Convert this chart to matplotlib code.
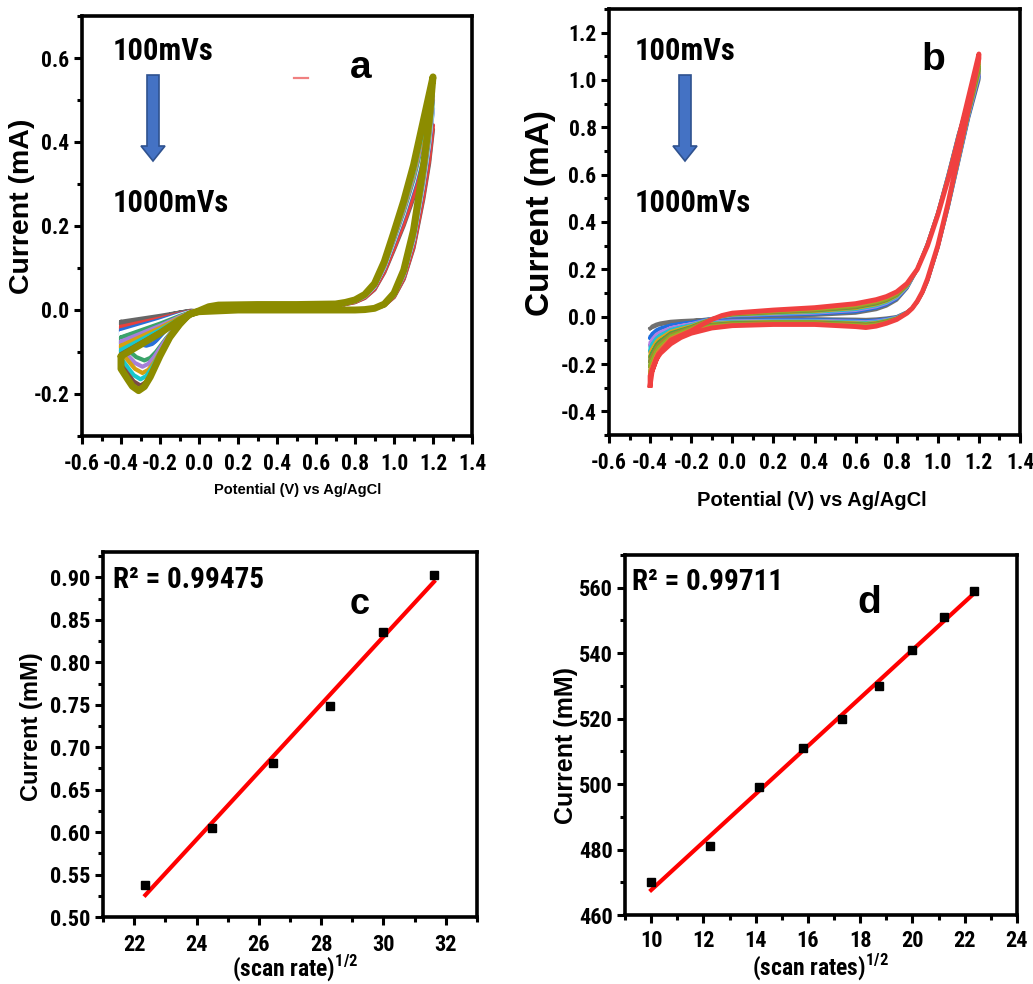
import numpy as np
import matplotlib
matplotlib.use("Agg")
import matplotlib.pyplot as plt
from matplotlib.patches import FancyArrow
from matplotlib.ticker import MultipleLocator, FormatStrFormatter

W, H = 1033, 984
NARROW = ["Roboto Condensed", "Archivo Narrow", "PT Sans Narrow",
          "IBM Plex Sans Condensed", "DejaVu Sans"]
WIDE = ["Liberation Sans", "Arimo", "DejaVu Sans"]

plt.rcParams["font.family"] = NARROW
plt.rcParams["font.weight"] = "bold"
plt.rcParams["axes.unicode_minus"] = False

# ---------------- data ----------------
# panel a: CV curves, 100 ... 1000 mV/s
scan_rates = [100, 200, 300, 400, 500, 600, 700, 800, 900, 1000]
colors_a = ["#666666", "#e8413c", "#2870d8", "#ffffff", "#3aa36a",
            "#a57fd9", "#d4a010", "#18c8cc", "#7b4b45", "#8c8c00"]
peak_i_a = [-0.03, -0.07, -0.085, -0.10, -0.12, -0.135, -0.15, -0.165, -0.18, -0.192]
peak_E_a = [-0.30, -0.26, -0.27, -0.27, -0.28, -0.29, -0.29, -0.30, -0.30, -0.31]
start_i_a = [-0.028, -0.04, -0.048, -0.055, -0.065, -0.075, -0.085, -0.095, -0.105, -0.11]
end_i_a = [-0.035, -0.05, -0.06, -0.07, -0.08, -0.09, -0.10, -0.115, -0.13, -0.14]
top_i_a = [0.43, 0.44, 0.48, 0.49, 0.50, 0.51, 0.52, 0.53, 0.54, 0.555]
plateau_a = [0.004, 0.005, 0.006, 0.007, 0.008, 0.009, 0.010, 0.011, 0.012, 0.013]

# anodic branches of the 1000 mV/s loop
E_up_a = [0.75, 0.8, 0.85, 0.9, 0.95, 1.0, 1.05, 1.1, 1.15]
i_up_a = [0.018, 0.024, 0.037, 0.063, 0.115, 0.186, 0.26, 0.345, 0.45]
E_dn_a = [1.18, 1.15, 1.12, 1.1, 1.05, 1.0, 0.95, 0.9, 0.85, 0.8]
i_dn_a = [0.45, 0.34, 0.25, 0.19, 0.095, 0.04, 0.014, 0.004, 0.001, 0.0]

# panel b: CV curves
colors_b = ["#707070", "#1f6fe0", "#b07fe0", "#20c0d0", "#e0a020",
            "#50a040", "#a08a30", "#88b828", "#e08030", "#f04040"]
tip_b = [-0.05, -0.09, -0.12, -0.145, -0.17, -0.19, -0.21, -0.235, -0.26, -0.29]
top_b = [1.02, 1.03, 1.04, 1.05, 1.05, 1.06, 1.07, 1.08, 1.09, 1.11]
E_fwd_b = [-0.4, -0.39, -0.37, -0.35, -0.3, -0.25, -0.2, -0.1, 0.0, 0.2, 0.4, 0.6, 0.65,
           0.7, 0.75, 0.8, 0.85, 0.875, 0.9, 0.925, 0.95, 1.0, 1.05, 1.1, 1.15, 1.2]
red_fwd_b = [-0.29, -0.23, -0.18, -0.155, -0.115, -0.088, -0.07, -0.048, -0.038, -0.033,
             -0.033, -0.042, -0.046, -0.04, -0.028, -0.012, 0.015, 0.035, 0.065, 0.105,
             0.16, 0.30, 0.48, 0.68, 0.88, 1.08]
gray_fwd_b = [-0.05, -0.04, -0.032, -0.027, -0.02, -0.017, -0.015, -0.012, -0.01, -0.009,
              -0.009, -0.011, -0.012, -0.01, -0.006, 0.0, 0.02, 0.036, 0.062, 0.1,
              0.15, 0.29, 0.46, 0.65, 0.84, 1.02]
E_rev_b = [1.2, 1.15, 1.1, 1.05, 1.0, 0.95, 0.9, 0.85, 0.8, 0.75, 0.7, 0.6, 0.4, 0.2,
           0.0, -0.05, -0.1, -0.15, -0.2, -0.3, -0.36, -0.4]
red_rev_b = [1.11, 0.93, 0.75, 0.58, 0.43, 0.30, 0.20, 0.14, 0.105, 0.085, 0.072, 0.055,
             0.038, 0.028, 0.015, 0.005, -0.012, -0.035, -0.06, -0.10, -0.16, -0.25]
gray_rev_b = [1.03, 0.91, 0.77, 0.60, 0.44, 0.31, 0.20, 0.12, 0.07, 0.045, 0.03, 0.015,
              0.006, 0.003, 0.0, -0.003, -0.008, -0.013, -0.018, -0.025, -0.035, -0.05]

# panel c
sqrt_rate_c = [22.36, 24.49, 26.46, 28.28, 30.0, 31.62]
current_c = [0.538, 0.605, 0.682, 0.749, 0.836, 0.903]
# panel d
sqrt_rate_d = [10.0, 12.25, 14.14, 15.81, 17.32, 18.71, 20.0, 21.21, 22.36]
current_d = [470, 481, 499, 511, 520, 530, 541, 551, 559]


def fx(x):
    return x / W


def fy(y):
    return 1 - y / H


def box(l, t, r, b):
    return [fx(l), fy(b), (r - l) / W, (b - t) / H]


def cv_loop_a(k):
    s, p, pe, e = start_i_a[k], peak_i_a[k], peak_E_a[k], end_i_a[k]
    top, pl = top_i_a[k], plateau_a[k]
    g = top / top_i_a[-1]
    E = [-0.4, -0.3, -0.2, -0.1, -0.05, 0.0, 0.05, 0.1, 0.3, 0.5, 0.7]
    I = [s, s * 0.75, s * 0.5, s * 0.22, s * 0.1, -0.002, pl * 0.6, pl * 0.9, pl, pl, pl * 1.1]
    E += E_up_a + [1.2]
    I += [v * g for v in i_up_a] + [top]
    E += E_dn_a + [0.6, 0.4, 0.2, 0.0]
    I += [v * g for v in i_dn_a] + [0.0, 0.0, 0.0, -0.004]
    for off, fr in zip([0.26, 0.21, 0.16, 0.11, 0.06, 0.03, 0.0],
                       [0.05, 0.18, 0.34, 0.57, 0.83, 0.95, 1.0]):
        E.append(pe + off)
        I.append(p * fr)
    for fe, fi in zip([0.35, 0.6, 0.8, 1.0], [0.2, 0.5, 0.75, 1.0]):
        E.append(pe + (-0.4 - pe) * fe)
        I.append(p + (e - p) * fi)
    E.append(-0.4)
    I.append(s)
    return E, I


def cv_loop_b(k):
    w = (tip_b[k] - tip_b[0]) / (tip_b[-1] - tip_b[0])
    f = [gv + w * (rv - gv) for gv, rv in zip(gray_fwd_b, red_fwd_b)]
    r = [gv + w * (rv - gv) for gv, rv in zip(gray_rev_b, red_rev_b)]
    f[0] = tip_b[k]
    f[-1] = top_b[k] - 0.02
    r[0] = top_b[k]
    return E_fwd_b + E_rev_b + [-0.4], f + r + [tip_b[k]]


def style(ax, xmaj, xmin, ymaj, ymin, size, xpad, ypad):
    for sp in ax.spines.values():
        sp.set_linewidth(2.6)
    ax.xaxis.set_major_locator(MultipleLocator(xmaj))
    ax.xaxis.set_minor_locator(MultipleLocator(xmin))
    ax.yaxis.set_major_locator(MultipleLocator(ymaj))
    ax.yaxis.set_minor_locator(MultipleLocator(ymin))
    ax.tick_params(which="both", direction="out", top=False, right=False, width=2.2)
    ax.tick_params(which="major", length=6, labelsize=size)
    ax.tick_params(which="minor", length=3.5)
    ax.tick_params(axis="x", pad=xpad)
    ax.tick_params(axis="y", pad=ypad)


def arrow(x, y0, y1):
    a = FancyArrow(fx(x), fy(y0), 0, fy(y1) - fy(y0), width=12 / W,
                   head_width=24 / W, head_length=15 / H,
                   length_includes_head=True, transform=fig.transFigure,
                   facecolor="#4472C4", edgecolor="#2F528F", linewidth=1.2)
    fig.add_artist(a)


fig = plt.figure(figsize=(W / 100, H / 100), dpi=100)

# ---------------- panel a ----------------
ax = fig.add_axes(box(82, 16, 472, 436))
for k in range(len(scan_rates)):
    E, I = cv_loop_a(k)
    ax.plot(E, I, color=colors_a[k], lw=5 if k == len(scan_rates) - 1 else 3,
            solid_joinstyle="round", solid_capstyle="round")
ax.set_xlim(-0.6, 1.4)
ax.set_ylim(-0.3, 0.7)
style(ax, 0.2, 0.1, 0.2, 0.1, 15.5, 6, 3)
ax.xaxis.set_major_formatter(FormatStrFormatter("%.1f"))
ax.yaxis.set_major_formatter(FormatStrFormatter("%.1f"))
ax.set_yticks([-0.2, 0.0, 0.2, 0.4, 0.6])
fig.add_artist(plt.Line2D([fx(294), fx(308)], [fy(78), fy(78)], color="#f08080",
                          lw=1.6, transform=fig.transFigure))

# ---------------- panel b ----------------
bx = fig.add_axes(box(609, 9, 1020, 435))
for k in range(len(tip_b)):
    E, I = cv_loop_b(k)
    bx.plot(E, I, color=colors_b[k], lw=3.5 if k == len(tip_b) - 1 else 2.4,
            solid_joinstyle="round")
bx.set_xlim(-0.6, 1.4)
bx.set_ylim(-0.5, 1.3)
style(bx, 0.2, 0.1, 0.2, 0.1, 15.5, 6, 3)
bx.xaxis.set_major_formatter(FormatStrFormatter("%.1f"))
bx.yaxis.set_major_formatter(FormatStrFormatter("%.1f"))
bx.set_yticks([-0.4, -0.2, 0.0, 0.2, 0.4, 0.6, 0.8, 1.0, 1.2])

# ---------------- panel c ----------------
cx = fig.add_axes(box(103, 552, 477, 917))
m, c0 = np.polyfit(sqrt_rate_c, current_c, 1)
xs = np.array([sqrt_rate_c[0], sqrt_rate_c[-1]])
cx.plot(xs, m * xs + c0, color="#ff0000", lw=3)
cx.plot(sqrt_rate_c, current_c, "s", color="black", ms=5.5)
cx.set_xlim(21, 33)
cx.set_ylim(0.50, 0.93)
style(cx, 2, 1, 0.05, 0.025, 16, 6, 3)
cx.yaxis.set_major_formatter(FormatStrFormatter("%.2f"))

# ---------------- panel d ----------------
dx = fig.add_axes(box(625, 555, 1017, 915))
m, c0 = np.polyfit(sqrt_rate_d, current_d, 1)
xs = np.array([sqrt_rate_d[0], sqrt_rate_d[-1]])
dx.plot(xs, m * xs + c0, color="#ff0000", lw=3)
dx.plot(sqrt_rate_d, current_d, "s", color="black", ms=5.5)
dx.set_xlim(9, 24)
dx.set_ylim(460, 570)
style(dx, 2, 1, 20, 10, 16, 5, 3)

# ---------------- texts ----------------
for x0 in (113, 635):
    fig.text(fx(x0), fy(60), "100mVs", fontsize=22, va="baseline", ha="left")
    fig.text(fx(x0), fy(212), "1000mVs", fontsize=22, va="baseline", ha="left")
arrow(153, 75, 161)
arrow(685, 75, 161)

fig.text(fx(361), fy(78), "a", fontsize=28, family=WIDE, ha="center", va="baseline")
fig.text(fx(933), fy(70), "b", fontsize=28, family=WIDE, ha="center", va="baseline")
fig.text(fx(360), fy(614), "c", fontsize=26, family=WIDE, ha="center", va="baseline")
fig.text(fx(869), fy(613), "d", fontsize=28, family=WIDE, ha="center", va="baseline")

fig.text(fx(113), fy(588), "R\u00b2 = 0.99475", fontsize=21, va="baseline")
fig.text(fx(632), fy(590), "R\u00b2 = 0.99711", fontsize=21, va="baseline")

fig.text(fx(22), fy(206), "Current (mA)", fontsize=20.5, family=WIDE, rotation=90,
         ha="center", va="center")
fig.text(fx(541), fy(213), "Current (mA)", fontsize=24, family=WIDE, rotation=90,
         ha="center", va="center")
fig.text(fx(32), fy(727), "Current (mM)", fontsize=17, family=WIDE, rotation=90,
         ha="center", va="center")
fig.text(fx(566), fy(745), "Current (mM)", fontsize=18, family=WIDE, rotation=90,
         ha="center", va="center")

fig.text(fx(298), fy(490), "Potential (V) vs Ag/AgCl", fontsize=10.5, family=WIDE,
         ha="center", va="center")
fig.text(fx(812), fy(500), "Potential (V) vs Ag/AgCl", fontsize=14.5, family=WIDE,
         ha="center", va="center")
fig.text(fx(295), fy(969), r"(scan rate)$^{\mathregular{1/2}}$", fontsize=17,
         ha="center", va="center")
fig.text(fx(821), fy(968), r"(scan rates)$^{\mathregular{1/2}}$", fontsize=17,
         ha="center", va="center")

fig.savefig("out.png", dpi=100)
